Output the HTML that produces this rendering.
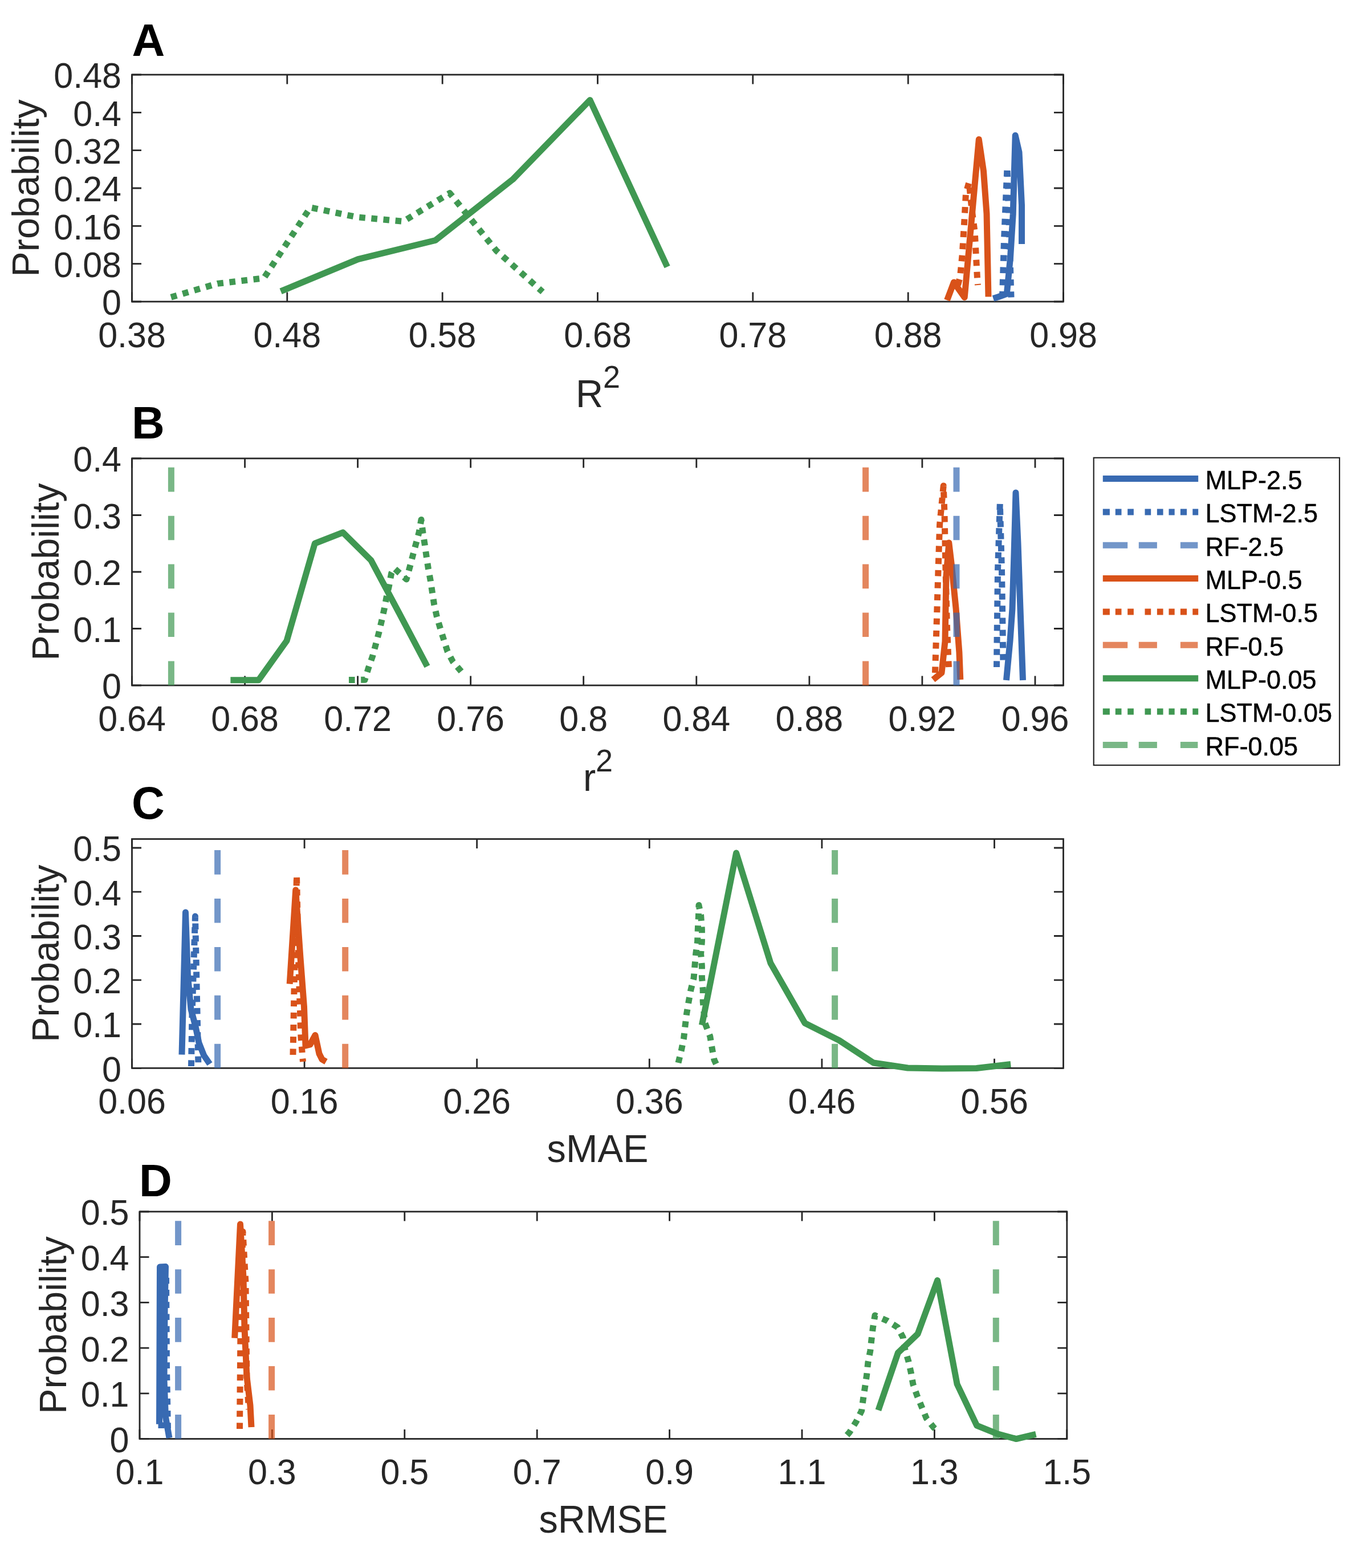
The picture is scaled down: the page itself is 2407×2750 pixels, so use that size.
<!DOCTYPE html>
<html><head><meta charset="utf-8"><title>Probability distributions</title>
<style>html,body{margin:0;padding:0;background:#fff;}svg{display:block;} text{font-family:"Liberation Sans", Arial, Helvetica, sans-serif;}</style>
</head><body>
<svg width="2407" height="2750" viewBox="0 0 2407 2750">
<rect x="0" y="0" width="2407" height="2750" fill="#ffffff"/>
<defs>
<clipPath id="clipA"><rect x="223.5" y="123.0" width="1650.0" height="414.0"/></clipPath>
<clipPath id="clipB"><rect x="223.5" y="796.0" width="1650.0" height="414.0"/></clipPath>
<clipPath id="clipC"><rect x="223.5" y="1463.5" width="1650.0" height="417.8"/></clipPath>
<clipPath id="clipD"><rect x="237.0" y="2117.0" width="1642.8" height="414.5"/></clipPath>
</defs>
<path d="M231.5,529.0V512.5M231.5,131.0V147.5M503.8,529.0V512.5M503.8,131.0V147.5M776.2,529.0V512.5M776.2,131.0V147.5M1048.5,529.0V512.5M1048.5,131.0V147.5M1320.8,529.0V512.5M1320.8,131.0V147.5M1593.2,529.0V512.5M1593.2,131.0V147.5M1865.5,529.0V512.5M1865.5,131.0V147.5M231.5,529.0H248.0M1865.5,529.0H1849.0M231.5,462.7H248.0M1865.5,462.7H1849.0M231.5,396.3H248.0M1865.5,396.3H1849.0M231.5,330.0H248.0M1865.5,330.0H1849.0M231.5,263.7H248.0M1865.5,263.7H1849.0M231.5,197.3H248.0M1865.5,197.3H1849.0M231.5,131.0H248.0M1865.5,131.0H1849.0" stroke="#262626" stroke-width="2.8" fill="none"/>
<rect x="231.5" y="131.0" width="1634.0" height="398.0" fill="none" stroke="#262626" stroke-width="2.8"/>
<g clip-path="url(#clipA)" fill="none">
<path d="M492.6,510.9 L628.2,454.7 L763.8,421.5 L899.4,314.8 L1035.0,175.5 L1170.6,468.0" stroke="#409852" stroke-width="11.0" stroke-linejoin="round" stroke-linecap="butt"/>
<path d="M300.0,521.2 L381.5,497.4 L463.0,487.8 L544.5,363.9 L626.0,380.7 L707.5,388.4 L789.0,338.7 L870.5,439.3 L952.0,512.0" stroke="#409852" stroke-width="11.0" stroke-dasharray="10.6 10.6" stroke-linejoin="round" stroke-linecap="butt"/>
<path d="M1661.5,526.5 L1673.4,495.0 L1692.2,521.6 L1717.3,244.5 L1725.5,300.0 L1731.0,375.0 L1734.0,520.5" stroke="#d95219" stroke-width="11.0" stroke-linejoin="round" stroke-linecap="butt"/>
<path d="M1680.5,500.0 L1684.4,485.6 L1688.3,445.0 L1692.2,381.0 L1694.5,338.8 L1700.0,320.0 L1704.7,365.3 L1710.2,407.5 L1712.5,451.0 L1714.8,493.4 L1715.5,500.0" stroke="#d95219" stroke-width="11.0" stroke-dasharray="10.6 10.6" stroke-linejoin="round" stroke-linecap="butt"/>
<path d="M1742.5,523.5 L1752.0,520.5 L1766.3,515.3 L1772.5,452.0 L1777.2,376.0 L1781.2,237.5 L1788.0,267.0 L1792.5,360.0 L1792.5,428.0" stroke="#386ab2" stroke-width="11.0" stroke-linejoin="round" stroke-linecap="butt"/>
<path d="M1758.5,521.5 L1761.5,420.0 L1767.0,294.0 L1770.5,400.0 L1774.0,521.5" stroke="#386ab2" stroke-width="11.0" stroke-dasharray="10.6 10.6" stroke-linejoin="round" stroke-linecap="butt"/>
</g>
<g fill="#262626" font-size="61">
<text transform="translate(231.5,608.6) scale(1,1.03)" text-anchor="middle">0.38</text>
<text transform="translate(503.8,608.6) scale(1,1.03)" text-anchor="middle">0.48</text>
<text transform="translate(776.2,608.6) scale(1,1.03)" text-anchor="middle">0.58</text>
<text transform="translate(1048.5,608.6) scale(1,1.03)" text-anchor="middle">0.68</text>
<text transform="translate(1320.8,608.6) scale(1,1.03)" text-anchor="middle">0.78</text>
<text transform="translate(1593.2,608.6) scale(1,1.03)" text-anchor="middle">0.88</text>
<text transform="translate(1865.5,608.6) scale(1,1.03)" text-anchor="middle">0.98</text>
<text transform="translate(213.0,552.4) scale(1,1.03)" text-anchor="end">0</text>
<text transform="translate(213.0,486.1) scale(1,1.03)" text-anchor="end">0.08</text>
<text transform="translate(213.0,419.7) scale(1,1.03)" text-anchor="end">0.16</text>
<text transform="translate(213.0,353.4) scale(1,1.03)" text-anchor="end">0.24</text>
<text transform="translate(213.0,287.1) scale(1,1.03)" text-anchor="end">0.32</text>
<text transform="translate(213.0,220.7) scale(1,1.03)" text-anchor="end">0.4</text>
<text transform="translate(213.0,154.4) scale(1,1.03)" text-anchor="end">0.48</text>
</g>
<text transform="translate(1049.0,713.5) scale(1,1.025)" fill="#262626" font-size="66.7" text-anchor="middle">R<tspan font-size="54" dy="-32.4">2</tspan></text>
<text transform="translate(68.4,330.0) rotate(-90)" fill="#262626" font-size="66.7" text-anchor="middle">Probability</text>
<text x="231.5" y="97.8" fill="#000" font-size="80" font-weight="bold">A</text>
<path d="M231.5,1202.0V1185.5M231.5,804.0V820.5M429.6,1202.0V1185.5M429.6,804.0V820.5M627.6,1202.0V1185.5M627.6,804.0V820.5M825.7,1202.0V1185.5M825.7,804.0V820.5M1023.7,1202.0V1185.5M1023.7,804.0V820.5M1221.8,1202.0V1185.5M1221.8,804.0V820.5M1419.9,1202.0V1185.5M1419.9,804.0V820.5M1617.9,1202.0V1185.5M1617.9,804.0V820.5M1816.0,1202.0V1185.5M1816.0,804.0V820.5M231.5,1202.0H248.0M1865.5,1202.0H1849.0M231.5,1102.5H248.0M1865.5,1102.5H1849.0M231.5,1003.0H248.0M1865.5,1003.0H1849.0M231.5,903.5H248.0M1865.5,903.5H1849.0M231.5,804.0H248.0M1865.5,804.0H1849.0" stroke="#262626" stroke-width="2.8" fill="none"/>
<rect x="231.5" y="804.0" width="1634.0" height="398.0" fill="none" stroke="#262626" stroke-width="2.8"/>
<g clip-path="url(#clipB)" fill="none">
<path d="M404.4,1192.7 L453.7,1192.7 L503.0,1123.9 L552.3,953.2 L601.6,933.9 L650.9,982.7 L700.2,1075.1 L749.5,1168.8" stroke="#409852" stroke-width="11.0" stroke-linejoin="round" stroke-linecap="butt"/>
<path d="M612.0,1192.6 L640.0,1192.3 L646.7,1170.7 L653.8,1150.4 L659.3,1130.0 L664.7,1109.7 L669.4,1089.4 L674.1,1068.3 L678.0,1047.9 L682.7,1026.8 L686.6,1005.7 L691.5,996.5 L713.0,1016.0 L718.7,995.5 L724.2,974.4 L729.6,954.1 L735.1,933.8 L739.0,911.5 L742.1,935.3 L745.3,955.7 L748.4,977.6 L751.5,997.9 L755.4,1019.0 L758.6,1040.1 L761.7,1060.4 L766.4,1081.6 L772.6,1102.7 L778.9,1123.0 L785.1,1142.5 L794.5,1160.5 L808.6,1176.9 L812.0,1181.0" stroke="#409852" stroke-width="11.0" stroke-dasharray="10.6 10.6" stroke-linejoin="round" stroke-linecap="butt"/>
<path d="M1637.0,1192.0 L1652.0,1180.0 L1658.0,1124.8 L1660.0,1010.5 L1664.8,952.0 L1669.5,991.4 L1677.1,1067.6 L1682.9,1143.8 L1684.8,1192.0" stroke="#d95219" stroke-width="11.0" stroke-linejoin="round" stroke-linecap="butt"/>
<path d="M1640.5,1180.0 L1643.0,1100.0 L1646.0,1000.0 L1648.6,920.0 L1655.2,852.0 L1657.0,900.0 L1659.0,1000.0 L1661.5,1100.0 L1664.8,1178.0" stroke="#d95219" stroke-width="11.0" stroke-dasharray="10.6 10.6" stroke-linejoin="round" stroke-linecap="butt"/>
<path d="M1765.5,1193.0 L1772.0,1124.0 L1776.0,1068.0 L1779.0,972.0 L1782.0,864.0 L1786.0,953.0 L1790.0,1068.0 L1794.5,1193.0" stroke="#386ab2" stroke-width="11.0" stroke-linejoin="round" stroke-linecap="butt"/>
<path d="M1748.5,1170.0 L1750.5,1000.0 L1754.3,883.0 L1757.5,1000.0 L1760.0,1168.0" stroke="#386ab2" stroke-width="11.0" stroke-dasharray="10.6 10.6" stroke-linejoin="round" stroke-linecap="butt"/>
<path d="M300.4,1202.0 L300.4,804.0" stroke="#409852" stroke-opacity="0.7" stroke-width="11.0" stroke-dasharray="42.6 42.3" stroke-linecap="butt"/>
<path d="M1518.6,1202.0 L1518.6,804.0" stroke="#d95219" stroke-opacity="0.7" stroke-width="11.0" stroke-dasharray="42.6 42.3" stroke-linecap="butt"/>
<path d="M1678.0,1202.0 L1678.0,804.0" stroke="#386ab2" stroke-opacity="0.7" stroke-width="11.0" stroke-dasharray="42.6 42.3" stroke-linecap="butt"/>
</g>
<g fill="#262626" font-size="61">
<text transform="translate(231.5,1281.6) scale(1,1.03)" text-anchor="middle">0.64</text>
<text transform="translate(429.6,1281.6) scale(1,1.03)" text-anchor="middle">0.68</text>
<text transform="translate(627.6,1281.6) scale(1,1.03)" text-anchor="middle">0.72</text>
<text transform="translate(825.7,1281.6) scale(1,1.03)" text-anchor="middle">0.76</text>
<text transform="translate(1023.7,1281.6) scale(1,1.03)" text-anchor="middle">0.8</text>
<text transform="translate(1221.8,1281.6) scale(1,1.03)" text-anchor="middle">0.84</text>
<text transform="translate(1419.9,1281.6) scale(1,1.03)" text-anchor="middle">0.88</text>
<text transform="translate(1617.9,1281.6) scale(1,1.03)" text-anchor="middle">0.92</text>
<text transform="translate(1816.0,1281.6) scale(1,1.03)" text-anchor="middle">0.96</text>
<text transform="translate(213.0,1225.4) scale(1,1.03)" text-anchor="end">0</text>
<text transform="translate(213.0,1125.9) scale(1,1.03)" text-anchor="end">0.1</text>
<text transform="translate(213.0,1026.4) scale(1,1.03)" text-anchor="end">0.2</text>
<text transform="translate(213.0,926.9) scale(1,1.03)" text-anchor="end">0.3</text>
<text transform="translate(213.0,827.4) scale(1,1.03)" text-anchor="end">0.4</text>
</g>
<text transform="translate(1049.0,1386.5) scale(1,1.025)" fill="#262626" font-size="66.7" text-anchor="middle">r<tspan font-size="54" dy="-32.4">2</tspan></text>
<text transform="translate(102.6,1003.0) rotate(-90)" fill="#262626" font-size="66.7" text-anchor="middle">Probability</text>
<text x="231.0" y="769.2" fill="#000" font-size="80" font-weight="bold">B</text>
<path d="M231.5,1873.3V1856.8M231.5,1471.5V1488.0M534.1,1873.3V1856.8M534.1,1471.5V1488.0M836.7,1873.3V1856.8M836.7,1471.5V1488.0M1139.3,1873.3V1856.8M1139.3,1471.5V1488.0M1441.9,1873.3V1856.8M1441.9,1471.5V1488.0M1744.5,1873.3V1856.8M1744.5,1471.5V1488.0M231.5,1873.3H248.0M1865.5,1873.3H1849.0M231.5,1796.0H248.0M1865.5,1796.0H1849.0M231.5,1718.8H248.0M1865.5,1718.8H1849.0M231.5,1641.5H248.0M1865.5,1641.5H1849.0M231.5,1564.2H248.0M1865.5,1564.2H1849.0M231.5,1487.0H248.0M1865.5,1487.0H1849.0" stroke="#262626" stroke-width="2.8" fill="none"/>
<rect x="231.5" y="1471.5" width="1634.0" height="401.8" fill="none" stroke="#262626" stroke-width="2.8"/>
<g clip-path="url(#clipC)" fill="none">
<path d="M319.0,1849.6 L325.5,1600.0 L329.5,1712.0 L335.0,1770.0 L343.0,1800.0 L349.0,1829.0 L357.7,1851.0 L368.0,1866.0" stroke="#386ab2" stroke-width="11.0" stroke-linejoin="round" stroke-linecap="butt"/>
<path d="M335.5,1870.0 L337.0,1780.0 L342.5,1607.0 L345.5,1750.0 L348.0,1872.0" stroke="#386ab2" stroke-width="11.0" stroke-dasharray="10.6 10.6" stroke-linejoin="round" stroke-linecap="butt"/>
<path d="M508.2,1725.7 L518.7,1561.0 L527.0,1680.0 L533.5,1766.0 L536.0,1834.0 L544.0,1832.0 L553.0,1815.5 L560.0,1848.0 L565.0,1858.0 L572.0,1862.0" stroke="#d95219" stroke-width="11.0" stroke-linejoin="round" stroke-linecap="butt"/>
<path d="M514.0,1850.0 L516.0,1738.0 L520.5,1535.5 L524.0,1700.0 L528.0,1820.0 L531.5,1862.0" stroke="#d95219" stroke-width="11.0" stroke-dasharray="10.6 10.6" stroke-linejoin="round" stroke-linecap="butt"/>
<path d="M1231.4,1797.9 L1291.6,1496.0 L1351.8,1688.9 L1412.0,1794.3 L1472.2,1824.6 L1532.4,1864.0 L1592.6,1873.0 L1652.8,1874.0 L1713.0,1873.5 L1773.2,1866.5" stroke="#409852" stroke-width="11.0" stroke-linejoin="round" stroke-linecap="butt"/>
<path d="M1190.0,1864.0 L1195.4,1842.0 L1199.6,1820.7 L1202.0,1799.3 L1204.6,1777.9 L1208.2,1756.4 L1211.8,1736.8 L1217.1,1715.4 L1218.9,1694.3 L1220.7,1672.9 L1223.6,1651.4 L1224.3,1630.0 L1225.4,1608.6 L1226.0,1587.5 L1229.6,1605.0 L1231.4,1630.0 L1231.4,1651.4 L1229.6,1672.9 L1231.4,1694.3 L1231.4,1714.0 L1233.2,1735.4 L1233.2,1756.8 L1236.8,1794.3 L1245.7,1817.5 L1249.3,1838.9 L1252.9,1858.6 L1258.2,1870.0" stroke="#409852" stroke-width="11.0" stroke-dasharray="10.6 10.6" stroke-linejoin="round" stroke-linecap="butt"/>
<path d="M381.6,1873.3 L381.6,1471.5" stroke="#386ab2" stroke-opacity="0.7" stroke-width="11.0" stroke-dasharray="42.6 42.3" stroke-linecap="butt"/>
<path d="M605.7,1873.3 L605.7,1471.5" stroke="#d95219" stroke-opacity="0.7" stroke-width="11.0" stroke-dasharray="42.6 42.3" stroke-linecap="butt"/>
<path d="M1464.6,1873.3 L1464.6,1471.5" stroke="#409852" stroke-opacity="0.7" stroke-width="11.0" stroke-dasharray="42.6 42.3" stroke-linecap="butt"/>
</g>
<g fill="#262626" font-size="61">
<text transform="translate(231.5,1952.9) scale(1,1.03)" text-anchor="middle">0.06</text>
<text transform="translate(534.1,1952.9) scale(1,1.03)" text-anchor="middle">0.16</text>
<text transform="translate(836.7,1952.9) scale(1,1.03)" text-anchor="middle">0.26</text>
<text transform="translate(1139.3,1952.9) scale(1,1.03)" text-anchor="middle">0.36</text>
<text transform="translate(1441.9,1952.9) scale(1,1.03)" text-anchor="middle">0.46</text>
<text transform="translate(1744.5,1952.9) scale(1,1.03)" text-anchor="middle">0.56</text>
<text transform="translate(213.0,1896.7) scale(1,1.03)" text-anchor="end">0</text>
<text transform="translate(213.0,1819.4) scale(1,1.03)" text-anchor="end">0.1</text>
<text transform="translate(213.0,1742.2) scale(1,1.03)" text-anchor="end">0.2</text>
<text transform="translate(213.0,1664.9) scale(1,1.03)" text-anchor="end">0.3</text>
<text transform="translate(213.0,1587.6) scale(1,1.03)" text-anchor="end">0.4</text>
<text transform="translate(213.0,1510.4) scale(1,1.03)" text-anchor="end">0.5</text>
</g>
<text transform="translate(1048.5,2037.7) scale(1,1.025)" fill="#262626" font-size="66.7" text-anchor="middle">sMAE</text>
<text transform="translate(102.6,1672.4) rotate(-90)" fill="#262626" font-size="66.7" text-anchor="middle">Probability</text>
<text x="231.0" y="1436.0" fill="#000" font-size="80" font-weight="bold">C</text>
<path d="M245.0,2523.5V2507.0M245.0,2125.0V2141.5M477.4,2523.5V2507.0M477.4,2125.0V2141.5M709.8,2523.5V2507.0M709.8,2125.0V2141.5M942.2,2523.5V2507.0M942.2,2125.0V2141.5M1174.6,2523.5V2507.0M1174.6,2125.0V2141.5M1407.0,2523.5V2507.0M1407.0,2125.0V2141.5M1639.4,2523.5V2507.0M1639.4,2125.0V2141.5M1871.8,2523.5V2507.0M1871.8,2125.0V2141.5M245.0,2523.5H261.5M1871.8,2523.5H1855.3M245.0,2443.8H261.5M1871.8,2443.8H1855.3M245.0,2364.1H261.5M1871.8,2364.1H1855.3M245.0,2284.4H261.5M1871.8,2284.4H1855.3M245.0,2204.7H261.5M1871.8,2204.7H1855.3M245.0,2125.0H261.5M1871.8,2125.0H1855.3" stroke="#262626" stroke-width="2.8" fill="none"/>
<rect x="245.0" y="2125.0" width="1626.8" height="398.5" fill="none" stroke="#262626" stroke-width="2.8"/>
<g clip-path="url(#clipD)" fill="none">
<path d="M279.5,2497.7 L280.5,2222.0 L290.5,2221.5 L289.0,2300.0 L288.0,2420.0 L290.5,2485.0 L297.0,2522.0" stroke="#386ab2" stroke-width="11.0" stroke-linejoin="round" stroke-linecap="butt"/>
<path d="M283.0,2505.0 L285.0,2226.0 L291.5,2232.0 L292.5,2400.0 L294.5,2505.0" stroke="#386ab2" stroke-width="11.0" stroke-dasharray="10.6 10.6" stroke-linejoin="round" stroke-linecap="butt"/>
<path d="M411.7,2346.8 L421.5,2147.0 L427.0,2240.0 L429.0,2330.0 L433.0,2415.0 L439.0,2465.0 L441.0,2503.0" stroke="#d95219" stroke-width="11.0" stroke-linejoin="round" stroke-linecap="butt"/>
<path d="M420.5,2506.0 L422.0,2330.0 L426.0,2160.0 L431.0,2250.0 L433.0,2420.0 L436.5,2472.0" stroke="#d95219" stroke-width="11.0" stroke-dasharray="10.6 10.6" stroke-linejoin="round" stroke-linecap="butt"/>
<path d="M1540.9,2473.2 L1575.5,2372.4 L1610.0,2339.6 L1644.6,2245.6 L1679.1,2427.5 L1713.7,2500.2 L1748.3,2514.2 L1782.8,2523.6 L1817.4,2515.4" stroke="#409852" stroke-width="11.0" stroke-linejoin="round" stroke-linecap="butt"/>
<path d="M1486.0,2517.0 L1490.5,2511.9 L1502.2,2493.1 L1511.6,2474.4 L1514.4,2453.3 L1517.4,2433.4 L1520.5,2412.3 L1522.8,2390.0 L1526.8,2368.9 L1529.1,2347.8 L1531.5,2327.9 L1535.0,2307.0 L1556.1,2316.2 L1574.8,2327.9 L1584.2,2345.5 L1587.7,2366.6 L1593.6,2386.5 L1598.3,2407.6 L1601.8,2427.5 L1608.8,2447.4 L1617.0,2467.3 L1625.2,2487.3 L1638.1,2503.7 L1643.0,2508.0" stroke="#409852" stroke-width="11.0" stroke-dasharray="10.6 10.6" stroke-linejoin="round" stroke-linecap="butt"/>
<path d="M312.6,2523.5 L312.6,2125.0" stroke="#386ab2" stroke-opacity="0.7" stroke-width="11.0" stroke-dasharray="42.6 42.3" stroke-linecap="butt"/>
<path d="M476.6,2523.5 L476.6,2125.0" stroke="#d95219" stroke-opacity="0.7" stroke-width="11.0" stroke-dasharray="42.6 42.3" stroke-linecap="butt"/>
<path d="M1747.3,2523.5 L1747.3,2125.0" stroke="#409852" stroke-opacity="0.7" stroke-width="11.0" stroke-dasharray="42.6 42.3" stroke-linecap="butt"/>
</g>
<g fill="#262626" font-size="61">
<text transform="translate(245.0,2603.1) scale(1,1.03)" text-anchor="middle">0.1</text>
<text transform="translate(477.4,2603.1) scale(1,1.03)" text-anchor="middle">0.3</text>
<text transform="translate(709.8,2603.1) scale(1,1.03)" text-anchor="middle">0.5</text>
<text transform="translate(942.2,2603.1) scale(1,1.03)" text-anchor="middle">0.7</text>
<text transform="translate(1174.6,2603.1) scale(1,1.03)" text-anchor="middle">0.9</text>
<text transform="translate(1407.0,2603.1) scale(1,1.03)" text-anchor="middle">1.1</text>
<text transform="translate(1639.4,2603.1) scale(1,1.03)" text-anchor="middle">1.3</text>
<text transform="translate(1871.8,2603.1) scale(1,1.03)" text-anchor="middle">1.5</text>
<text transform="translate(226.5,2546.9) scale(1,1.03)" text-anchor="end">0</text>
<text transform="translate(226.5,2467.2) scale(1,1.03)" text-anchor="end">0.1</text>
<text transform="translate(226.5,2387.5) scale(1,1.03)" text-anchor="end">0.2</text>
<text transform="translate(226.5,2307.8) scale(1,1.03)" text-anchor="end">0.3</text>
<text transform="translate(226.5,2228.1) scale(1,1.03)" text-anchor="end">0.4</text>
<text transform="translate(226.5,2148.4) scale(1,1.03)" text-anchor="end">0.5</text>
</g>
<text transform="translate(1058.4,2687.9) scale(1,1.025)" fill="#262626" font-size="66.7" text-anchor="middle">sRMSE</text>
<text transform="translate(116.1,2324.2) rotate(-90)" fill="#262626" font-size="66.7" text-anchor="middle">Probability</text>
<text x="244.0" y="2097.8" fill="#000" font-size="80" font-weight="bold">D</text>
<rect x="1918.75" y="802.80" width="431.25" height="539.20" fill="#fff" stroke="#262626" stroke-width="2.2"/>
<path d="M1934.8,839.5H2102.2" stroke="#386ab2" stroke-width="11.0"/>
<text transform="translate(2114.5,857.8) scale(1,1.045)" fill="#000" stroke="#000" stroke-width="0.5" font-size="45">MLP-2.5</text>
<path d="M1934.8,897.9H1946.9M1956.8,897.9H1967.5M1978.2,897.9H1988.9M2008.5,897.9H2019.2M2029.9,897.9H2040.6M2050.5,897.9H2060.7M2070.9,897.9H2082.1M2092.3,897.9H2102.2" stroke="#386ab2" stroke-width="11.0"/>
<text transform="translate(2114.5,916.2) scale(1,1.045)" fill="#000" stroke="#000" stroke-width="0.5" font-size="45">LSTM-2.5</text>
<path d="M1934.8,956.2H1978.2M1997.8,956.2H2029.9M2070.9,956.2H2101.4" stroke="#386ab2" stroke-opacity="0.7" stroke-width="11.0"/>
<text transform="translate(2114.5,974.5) scale(1,1.045)" fill="#000" stroke="#000" stroke-width="0.5" font-size="45">RF-2.5</text>
<path d="M1934.8,1014.6H2102.2" stroke="#d95219" stroke-width="11.0"/>
<text transform="translate(2114.5,1032.9) scale(1,1.045)" fill="#000" stroke="#000" stroke-width="0.5" font-size="45">MLP-0.5</text>
<path d="M1934.8,1072.9H1946.9M1956.8,1072.9H1967.5M1978.2,1072.9H1988.9M2008.5,1072.9H2019.2M2029.9,1072.9H2040.6M2050.5,1072.9H2060.7M2070.9,1072.9H2082.1M2092.3,1072.9H2102.2" stroke="#d95219" stroke-width="11.0"/>
<text transform="translate(2114.5,1091.2) scale(1,1.045)" fill="#000" stroke="#000" stroke-width="0.5" font-size="45">LSTM-0.5</text>
<path d="M1934.8,1131.3H1978.2M1997.8,1131.3H2029.9M2070.9,1131.3H2101.4" stroke="#d95219" stroke-opacity="0.7" stroke-width="11.0"/>
<text transform="translate(2114.5,1149.6) scale(1,1.045)" fill="#000" stroke="#000" stroke-width="0.5" font-size="45">RF-0.5</text>
<path d="M1934.8,1189.7H2102.2" stroke="#409852" stroke-width="11.0"/>
<text transform="translate(2114.5,1208.0) scale(1,1.045)" fill="#000" stroke="#000" stroke-width="0.5" font-size="45">MLP-0.05</text>
<path d="M1934.8,1248.0H1946.9M1956.8,1248.0H1967.5M1978.2,1248.0H1988.9M2008.5,1248.0H2019.2M2029.9,1248.0H2040.6M2050.5,1248.0H2060.7M2070.9,1248.0H2082.1M2092.3,1248.0H2102.2" stroke="#409852" stroke-width="11.0"/>
<text transform="translate(2114.5,1266.3) scale(1,1.045)" fill="#000" stroke="#000" stroke-width="0.5" font-size="45">LSTM-0.05</text>
<path d="M1934.8,1306.4H1978.2M1997.8,1306.4H2029.9M2070.9,1306.4H2101.4" stroke="#409852" stroke-opacity="0.7" stroke-width="11.0"/>
<text transform="translate(2114.5,1324.7) scale(1,1.045)" fill="#000" stroke="#000" stroke-width="0.5" font-size="45">RF-0.05</text>
</svg>
</body></html>
